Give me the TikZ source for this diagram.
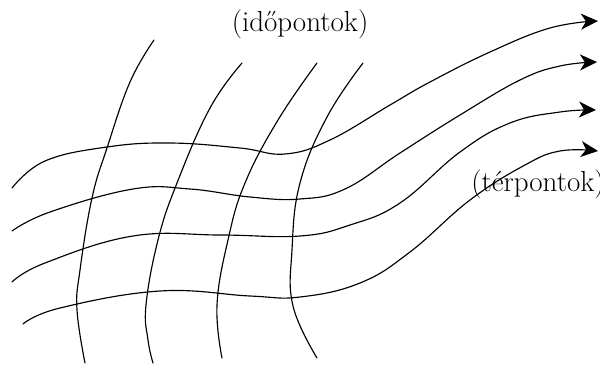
\documentclass[tikz,border=0pt]{standalone}
\usepackage{fontspec}
\usetikzlibrary{arrows.meta}
\tikzset{
  wire/.style={line width=1.15pt, line cap=round},
  arrowwire/.style={wire, -{Stealth[length=17pt,width=16pt,inset=5pt]}},
  lbl/.style={inner sep=0pt, font=\fontsize{29}{34}\selectfont}
}
\begin{document}
\begin{tikzpicture}[x=1pt,y=-1pt]
\useasboundingbox (0,0) rectangle (600,365);
% horizontal (space) lines
\draw[arrowwire] plot[smooth,tension=0.7] coordinates {(12,188) (45,161) (107,147) (170,143) (240,148) (285,154) (330,140) (390,105) (430,82) (490,52) (550,28) (598,21)};
\draw[arrowwire] plot[smooth,tension=0.7] coordinates {(12,231) (50,212) (133,189) (190,189) (250,197) (300,199) (345,189) (400,153) (460,115) (520,80) (560,66) (597,62)};
\draw[arrowwire] plot[smooth,tension=0.7] coordinates {(12,282) (45,263) (133,236) (220,235) (300,236) (350,225) (400,203) (460,152) (510,123) (560,112) (596,110)};
\draw[arrowwire] plot[smooth,tension=0.7] coordinates {(23,324) (60,308) (160,291) (250,296) (300,297) (360,283) (410,252) (470,200) (525,165) (560,151) (598,151)};
% vertical (time) lines
\draw[wire] plot[smooth,tension=0.7] coordinates {(154,40) (130,82) (107,148) (92,198) (80,270) (77,310) (85,363)};
\draw[wire] plot[smooth,tension=0.7] coordinates {(242,63) (210,108) (177,183) (158,240) (146,305) (148,340) (153,363)};
\draw[wire] plot[smooth,tension=0.7] coordinates {(317,63) (278,120) (245,183) (228,240) (217,305) (222,358)};
\draw[wire] plot[smooth,tension=0.7] coordinates {(363,63) (327,117) (300,183) (292,250) (293,306) (317,358)};
% labels
\node[lbl] (ido) at (300,24) {(időpontok)};
\node[lbl] (ter) at (538,184) {(térpontok)};
\end{tikzpicture}
\end{document}
